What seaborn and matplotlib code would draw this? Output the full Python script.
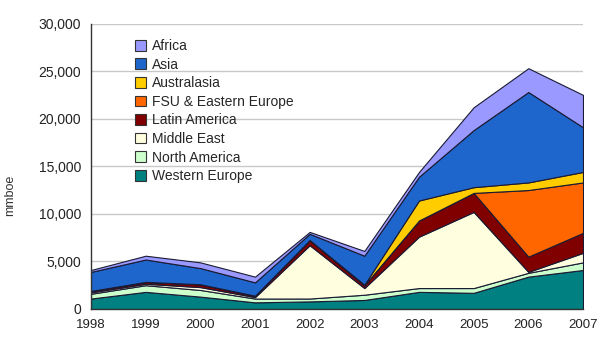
import numpy as np
import pandas as pd
import matplotlib
matplotlib.use("Agg")
import matplotlib.pyplot as plt
from matplotlib.patches import Patch
import seaborn as sns

years = [1998, 1999, 2000, 2001, 2002, 2003, 2004, 2005, 2006, 2007]
western_europe = [1100, 1800, 1300, 700, 800, 950, 1800, 1700, 3400, 4100]
north_america = [500, 700, 700, 400, 300, 550, 400, 500, 400, 800]
middle_east = [150, 150, 300, 150, 5600, 700, 5400, 8000, 100, 1000]
latin_america = [150, 200, 300, 150, 550, 300, 1700, 2000, 1600, 2100]
fsu_eastern_europe = [0, 0, 0, 0, 0, 0, 0, 0, 7000, 5300]
australasia = [0, 0, 0, 0, 0, 50, 2100, 600, 800, 1100]
asia = [2000, 2350, 1700, 1400, 650, 3050, 2500, 6000, 9500, 4700]
africa = [200, 400, 600, 600, 200, 500, 500, 2400, 2500, 3400]

series_names = ["Western Europe", "North America", "Middle East", "Latin America",
                "FSU & Eastern Europe", "Australasia", "Asia", "Africa"]
series_values = [western_europe, north_america, middle_east, latin_america,
                 fsu_eastern_europe, australasia, asia, africa]
colors = ["#008080", "#CCFFCC", "#FFFFE0", "#800000",
          "#FF6600", "#FFCC00", "#1F66CC", "#9999FF"]
y_ticks = [0, 5000, 10000, 15000, 20000, 25000, 30000]

df = pd.DataFrame(dict(zip(series_names, series_values)), index=years)

sns.set_style("white")
plt.rcParams['font.family'] = ['Liberation Sans', 'DejaVu Sans']

fig = plt.figure(figsize=(5.97, 3.45), dpi=100)
ax = fig.add_axes([91/597, 1 - 309/345, (583 - 91)/597, (309 - 23.5)/345])

ax.stackplot(df.index, *[df[c].values for c in series_names], colors=colors,
             edgecolor="#1a1a33", linewidth=0.8)

for y in y_ticks[1:]:
    ax.axhline(y, color="#c8c8c8", linewidth=1.0, zorder=0)

ax.set_xlim(1998, 2007)
ax.set_ylim(0, 30000)
ax.set_xticks(years)
ax.set_xticklabels([str(y) for y in years], fontsize=9.5)
ax.set_yticks(y_ticks)
ax.set_yticklabels([f"{v:,}" for v in y_ticks], fontsize=10)
ax.set_ylabel("mmboe", fontsize=9, color="#333333")
ax.yaxis.set_label_coords(-(91 - 16) / (583 - 91), (309 - 195) / (309 - 23.5))
ax.tick_params(axis="both", direction="out", length=4, width=1, color="#333333",
               labelcolor="#222222", pad=3)
for s in ["top", "right"]:
    ax.spines[s].set_visible(False)
for s in ["left", "bottom"]:
    ax.spines[s].set_color("#333333")
    ax.spines[s].set_linewidth(1.0)

handles = [Patch(facecolor=colors[i], edgecolor="#333333", linewidth=0.8,
                 label=series_names[i]) for i in range(len(series_names) - 1, -1, -1)]
leg = ax.legend(handles=handles, loc="upper left", bbox_to_anchor=(0.078, 0.965),
                frameon=False, fontsize=10, handlelength=0.8, handleheight=0.8,
                handletextpad=0.4, labelspacing=0.33, borderaxespad=0)

fig.savefig("out.png", dpi=100)
